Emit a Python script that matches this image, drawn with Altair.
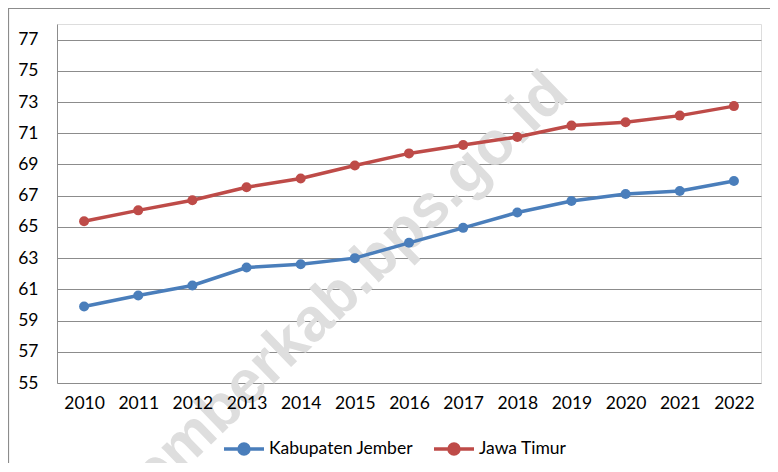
import altair as alt
import pandas as pd

years = [str(y) for y in range(2010, 2023)]
jember = [59.9, 60.61, 61.25, 62.4, 62.61, 63.0, 63.98, 64.94, 65.92, 66.66, 67.11, 67.3, 67.94]
jatim = [65.36, 66.06, 66.71, 67.54, 68.1, 68.93, 69.71, 70.25, 70.76, 71.49, 71.7, 72.13, 72.74]
series_names = ["Kabupaten Jember", "Jawa Timur"]
series_colors = ["#4A7EBB", "#BE4B48"]
y_ticks = list(range(55, 78, 2))
watermark = ["jemberkab.bps.go.id"]

rows = []
for name, vals in zip(series_names, [jember, jatim]):
    for yr, v in zip(years, vals):
        rows.append({"Tahun": yr, "Seri": name, "Nilai": v})
df = pd.DataFrame(rows)

FONT = "Lato"
FS = 17.5
W, H = 704, 359

x_enc = alt.X("Tahun:O", sort=years,
              scale=alt.Scale(type="point", padding=0.5),
              axis=alt.Axis(title=None, labelAngle=0, domain=False, ticks=False,
                            labelPadding=11, labelFont=FONT, labelFontSize=FS,
                            labelColor="#000000", grid=False, zindex=2))
y_enc = alt.Y("Nilai:Q", scale=alt.Scale(domain=[55, 78], nice=False, zero=False),
              axis=alt.Axis(title=None, values=y_ticks, ticks=False, tickSize=0,
                            labelPadding=19, labelFont=FONT, labelFontSize=FS,
                            labelColor="#000000", grid=True, gridColor="#8C8C8C",
                            gridWidth=1, domainColor="#8C8C8C", domainWidth=1))
color_enc = alt.Color("Seri:N", sort=series_names,
                      scale=alt.Scale(domain=series_names, range=series_colors),
                      legend=alt.Legend(title=None, orient="none", direction="horizontal",
                                        legendX=165, legendY=403,
                                        symbolType="M-1,0H1M-0.25,0A0.25,0.25,0,1,1,0.25,0A0.25,0.25,0,1,1,-0.25,0Z",
                                        symbolSize=1600, symbolStrokeWidth=3.5,
                                        labelFont=FONT, labelFontSize=FS, labelColor="#000000",
                                        labelOffset=3, columnPadding=13))

border = alt.Chart(pd.DataFrame({"b": [0]})).mark_rect(
    fill=None, stroke="#8C8C8C", strokeWidth=1.2
).encode(x=alt.value(-48.5), x2=alt.value(W + 100), y=alt.value(-15.5), y2=alt.value(H + 200))

wm = alt.Chart(pd.DataFrame({"t": watermark})).mark_text(
    font="Liberation Sans", fontWeight="bold", fontSize=61, angle=316,
    align="center", baseline="middle", color="#DEDEDE"
).encode(text="t:N", x=alt.value(288), y=alt.value(266))

lines = alt.Chart(df).mark_line(strokeWidth=3.5).encode(x=x_enc, y=y_enc, color=color_enc)
points = alt.Chart(df).mark_circle(size=100, opacity=1).encode(x=x_enc, y=y_enc, color=color_enc)

chart = alt.layer(border, wm, lines, points).properties(
    width=W, height=H,
    autosize=alt.AutoSizeParams(type="none"),
    padding={"left": 49, "top": 16, "right": 9, "bottom": 80},
).configure_view(stroke=None).configure(background="white")

chart.save("out.html", embed_options={"renderer": "svg", "actions": False})
